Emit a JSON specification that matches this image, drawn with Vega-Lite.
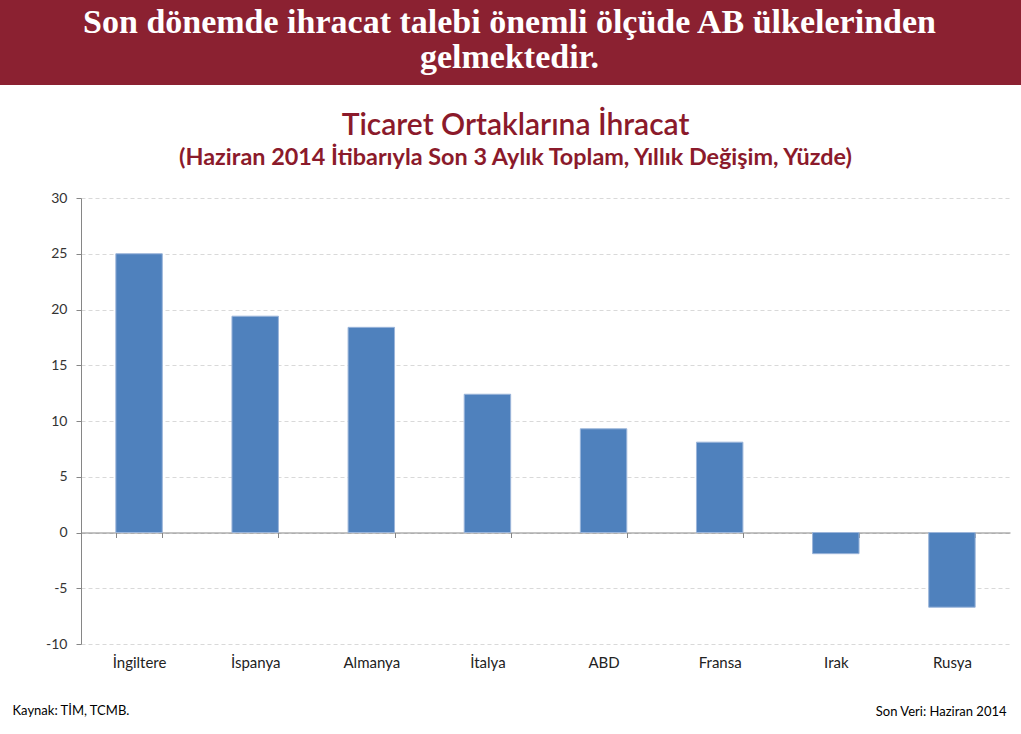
{
  "$schema": "https://vega.github.io/schema/vega-lite/v6.json",
  "padding": 0,
  "background": "white",
  "spacing": 25,
  "config": {"font": "Lato", "view": {"stroke": null}},
  "vconcat": [
    {
      "width": 1021,
      "height": 85,
      "view": {"fill": "#8B2131", "stroke": null},
      "data": {"values": [{"headline": "Son dönemde ihracat talebi önemli ölçüde AB ülkelerinden\ngelmektedir."}]},
      "mark": {"type": "text", "font": "Liberation Serif", "fontWeight": "bold", "fontSize": 34, "color": "white", "lineBreak": "\n", "lineHeight": 35, "baseline": "alphabetic", "align": "center", "dy": -9.5, "dx": -1},
      "encoding": {"text": {"field": "headline", "type": "nominal"}}
    },
    {
      "width": 1021,
      "height": 446,
      "title": {
        "text": "Ticaret Ortaklarına İhracat",
        "subtitle": "(Haziran 2014 İtibarıyla Son 3 Aylık Toplam, Yıllık Değişim, Yüzde)",
        "anchor": "middle",
        "frame": "group",
        "dx": 5,
        "font": "Lato",
        "fontSize": 30,
        "fontWeight": 600,
        "color": "#8B1A2B",
        "subtitleFont": "Lato",
        "subtitleFontSize": 23.4,
        "subtitleFontWeight": "bold",
        "subtitleColor": "#8B1A2B",
        "subtitlePadding": 6,
        "offset": 22
      },
      "data": {"values": [
        {"country": "İngiltere", "value": 25.0},
        {"country": "İspanya", "value": 19.4},
        {"country": "Almanya", "value": 18.4},
        {"country": "İtalya", "value": 12.4},
        {"country": "ABD", "value": 9.3},
        {"country": "Fransa", "value": 8.1},
        {"country": "Irak", "value": -1.9},
        {"country": "Rusya", "value": -6.7}
      ]},
      "mark": {"type": "bar", "color": "#4F81BD", "stroke": "#9BB5DA", "strokeWidth": 1},
      "encoding": {
        "x": {
          "field": "country", "type": "nominal", "sort": null,
          "scale": {"range": [81, 1010], "paddingInner": 0.6, "paddingOuter": 0.3},
          "axis": {
            "orient": "bottom", "offset": -111.5,
            "domain": true, "ticks": true,
            "domainColor": "#868686", "tickColor": "#868686", "tickSize": 5, "tickBand": "extent",
            "labelPadding": 118, "labelFontSize": 15, "labelColor": "#222222", "labelAngle": 0,
            "grid": false,
            "title": "Kaynak: TİM, TCMB.", "titleX": 12, "titleY": 178, "titleAlign": "left", "titleBaseline": "middle",
            "titleFont": "Lato", "titleFontSize": 13, "titleFontWeight": "normal", "titleColor": "#000000"
          }
        },
        "y": {
          "field": "value", "type": "quantitative",
          "scale": {"domain": [-10, 30], "nice": false},
          "axis": {
            "values": [-10, -5, 0, 5, 10, 15, 20, 25, 30],
            "labelExpr": "'' + datum.value",
            "offset": -81,
            "domain": true, "ticks": true, "domainWidth": 1, "tickWidth": 1,
            "domainColor": "#868686", "tickColor": "#868686", "tickSize": 5,
            "labelPadding": 9, "labelFontSize": 14, "labelColor": "#333333",
            "gridColor": "#D9D9D9", "gridDash": [4, 3],
            "title": "Son Veri: Haziran 2014", "titleAngle": 0, "titleX": 925, "titleY": 513,
            "titleAlign": "right", "titleBaseline": "middle",
            "titleFont": "Lato", "titleFontSize": 13, "titleFontWeight": "normal", "titleColor": "#000000"
          }
        }
      }
    }
  ]
}
